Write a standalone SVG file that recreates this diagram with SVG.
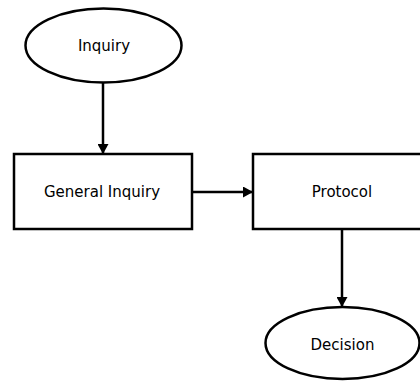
<svg xmlns="http://www.w3.org/2000/svg" width="420" height="381" viewBox="0 0 420 381">
<style>
.shape{fill:#fff;stroke:#000;stroke-width:2.5}
.lbl{font-family:"DejaVu Sans",Verdana,sans-serif;font-size:15px;fill:#000;text-anchor:middle}
.edge{stroke:#000;stroke-width:2.5;fill:none}
</style>
<defs>
<marker id="ah" viewBox="0 0 10 11" refX="10" refY="5.5" markerWidth="10" markerHeight="11" markerUnits="userSpaceOnUse" orient="auto">
<path d="M0,0 L10,5.5 L0,11 Z" fill="#000"/>
</marker>
</defs>
<rect width="420" height="381" fill="#fff"/>
<g id="connectors">
<line class="edge" x1="103" y1="83" x2="103" y2="154" marker-end="url(#ah)"/>
<line class="edge" x1="192" y1="192" x2="253" y2="192" marker-end="url(#ah)"/>
<line class="edge" x1="342" y1="229" x2="342" y2="307" marker-end="url(#ah)"/>
</g>
<g id="inquiry">
<ellipse class="shape" cx="103.5" cy="45.5" rx="78" ry="37"/>
<text class="lbl" x="104" y="50.5">Inquiry</text>
</g>
<g id="general-inquiry">
<rect class="shape" x="14" y="154" width="178" height="75"/>
<text class="lbl" x="102" y="197">General Inquiry</text>
</g>
<g id="protocol">
<rect class="shape" x="253" y="154" width="178" height="75"/>
<text class="lbl" x="342" y="197">Protocol</text>
</g>
<g id="decision">
<ellipse class="shape" cx="342.5" cy="343" rx="77" ry="36"/>
<text class="lbl" x="342.5" y="350">Decision</text>
</g>
</svg>
